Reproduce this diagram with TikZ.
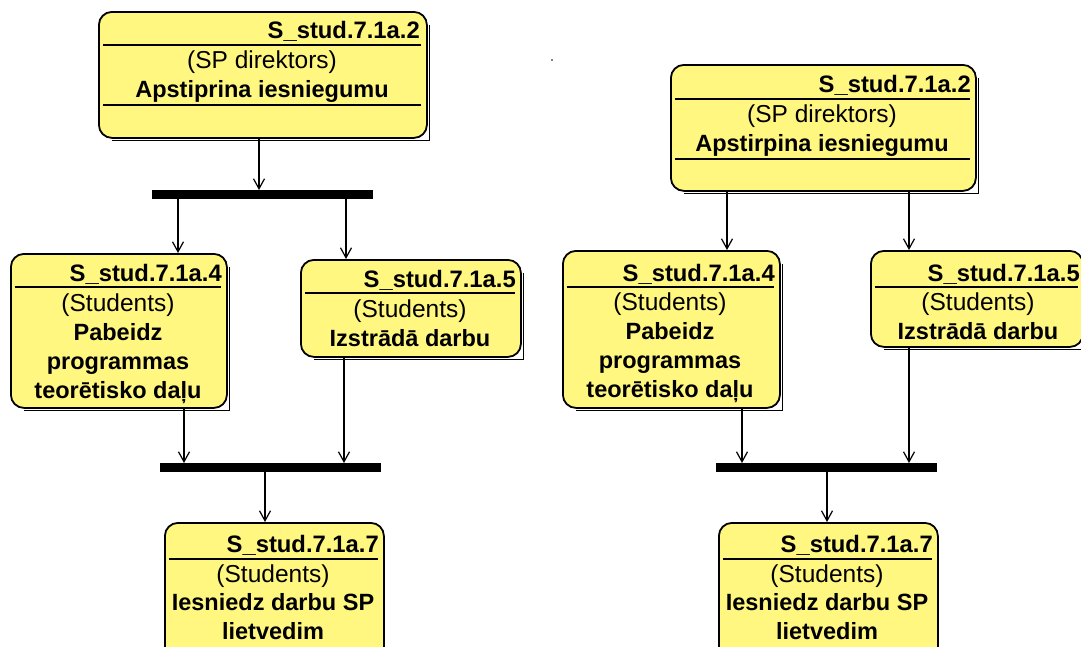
\documentclass[tikz,border=0pt]{standalone}
\usepackage{fontspec}
\setmainfont{Liberation Sans}
\usetikzlibrary{arrows.meta,calc}
\definecolor{actfill}{RGB}{255,247,128}
\tikzset{
  act/.style={draw=black, line width=1.8pt, fill=actfill, rounded corners=13pt,
              anchor=north west, inner sep=0pt},
  shadowline/.style={line width=1pt},
  sepline/.style={line width=1.8pt},
  syncbar/.style={fill=black, draw=none, anchor=north west, inner sep=0pt,
              minimum width=221pt, minimum height=9pt},
  flow/.style={line width=1.2pt, -{Straight Barb[length=10pt,width=11pt,line width=1.2pt]}},
  idtxt/.style={anchor=base east, font=\fontsize{23.8}{28}\selectfont\bfseries, inner sep=0pt},
  roletxt/.style={anchor=base, font=\fontsize{24.5}{28}\selectfont, inner sep=0pt},
  nametxt/.style={anchor=base, font=\fontsize{23.5}{28}\selectfont\bfseries, inner sep=0pt},
}
% offset shadow edge along the bottom and right of an activity box
\newcommand\boxshadow[1]{%
  \draw[shadowline] ($(#1.south west)+(14pt,-1.5pt)$) -| ($(#1.north east)+(1.5pt,-14pt)$);}
\begin{document}
\begin{tikzpicture}[x=1pt,y=-1pt]
\clip (0,0) rectangle (1081,646);
\fill[white] (0,0) rectangle (1081,646);

% ---------------- left flow ----------------
\node[act, minimum width=328pt, minimum height=126pt] (A2) at (98,11) {};
\boxshadow{A2}
\draw[sepline] (103,45) -- (421,45);
\draw[sepline] (103,105) -- (421,105);
\node[idtxt] (A2id) at (420,38) {S\_stud.7.1a.2};
\node[roletxt] (A2r) at (262,68) {(SP direktors)};
\node[nametxt] (A2n) at (262,97) {Apstiprina iesniegumu};

\node[syncbar] (J1) at (152,190) {};

\node[act, minimum width=216pt, minimum height=154pt] (A4) at (10,253) {};
\boxshadow{A4}
\draw[sepline] (15,287) -- (221,287);
\node[idtxt] (A4id) at (222,281) {S\_stud.7.1a.4};
\node[roletxt] (A4r) at (118,311) {(Students)};
\node[nametxt] (A4n1) at (118,340) {Pabeidz};
\node[nametxt] (A4n2) at (118,369) {programmas};
\node[nametxt] (A4n3) at (118,398) {teorētisko daļu};

\node[act, minimum width=220pt, minimum height=97pt] (A5) at (300,259) {};
\boxshadow{A5}
\draw[sepline] (305,293) -- (515,293);
\node[idtxt] (A5id) at (516,287) {S\_stud.7.1a.5};
\node[roletxt] (A5r) at (410,317) {(Students)};
\node[nametxt] (A5n) at (410,346) {Izstrādā darbu};

\node[syncbar] (J2) at (160,463) {};

\node[act, minimum width=219pt, minimum height=150pt] (A7) at (164,522) {};
\draw[sepline] (169,559) -- (378,559);
\node[idtxt] (A7id) at (379,552) {S\_stud.7.1a.7};
\node[roletxt] (A7r) at (273,582) {(Students)};
\node[nametxt] (A7n1) at (273,610) {Iesniedz darbu SP};
\node[nametxt] (A7n2) at (273,639) {lietvedim};

\coordinate (xa1) at (259,0);
\coordinate (xa2) at (178,0);
\coordinate (xa3) at (346,0);
\coordinate (xa4) at (184,0);
\coordinate (xa5) at (344,0);
\coordinate (xa6) at (265,0);
\draw[flow] (A2.south -| xa1) -- (J1.north -| xa1);
\draw[flow] (J1.south -| xa2) -- (A4.north -| xa2);
\draw[flow] (J1.south -| xa3) -- (A5.north -| xa3);
\draw[flow] (A4.south -| xa4) -- (J2.north -| xa4);
\draw[flow] (A5.south -| xa5) -- (J2.north -| xa5);
\draw[flow] (J2.south -| xa6) -- (A7.north -| xa6);

% ---------------- right flow ----------------
\fill (552,60) circle (0.8pt);

\node[act, minimum width=305pt, minimum height=126pt] (B2) at (670,64) {};
\boxshadow{B2}
\draw[sepline] (675,99) -- (970,99);
\draw[sepline] (675,159) -- (970,159);
\node[idtxt] (B2id) at (971,92) {S\_stud.7.1a.2};
\node[roletxt] (B2r) at (822,122) {(SP direktors)};
\node[nametxt] (B2n) at (822,151) {Apstirpina iesniegumu};

\node[act, minimum width=217pt, minimum height=157pt] (B4) at (562,250) {};
\boxshadow{B4}
\draw[sepline] (567,287) -- (774,287);
\node[idtxt] (B4id) at (775,281) {S\_stud.7.1a.4};
\node[roletxt] (B4r) at (670,310) {(Students)};
\node[nametxt] (B4n1) at (670,339) {Pabeidz};
\node[nametxt] (B4n2) at (670,368) {programmas};
\node[nametxt] (B4n3) at (670,397) {teorētisko daļu};

\node[act, minimum width=212pt, minimum height=96pt] (B5) at (870,250) {};
\boxshadow{B5}
\draw[sepline] (875,287) -- (1078,287);
\node[idtxt] (B5id) at (1080,281) {S\_stud.7.1a.5};
\node[roletxt] (B5r) at (978,310) {(Students)};
\node[nametxt] (B5n) at (978,339) {Izstrādā darbu};

\node[syncbar] (J3) at (716,463) {};

\node[act, minimum width=219pt, minimum height=150pt] (B7) at (718,522) {};
\draw[sepline] (723,559) -- (932,559);
\node[idtxt] (B7id) at (933,552) {S\_stud.7.1a.7};
\node[roletxt] (B7r) at (827,582) {(Students)};
\node[nametxt] (B7n1) at (827,610) {Iesniedz darbu SP};
\node[nametxt] (B7n2) at (827,639) {lietvedim};

\coordinate (xb1) at (727,0);
\coordinate (xb2) at (909,0);
\coordinate (xb3) at (742,0);
\coordinate (xb4) at (827,0);
\draw[flow] (B2.south -| xb1) -- (B4.north -| xb1);
\draw[flow] (B2.south -| xb2) -- (B5.north -| xb2);
\draw[flow] (B4.south -| xb3) -- (J3.north -| xb3);
\draw[flow] (B5.south -| xb2) -- (J3.north -| xb2);
\draw[flow] (J3.south -| xb4) -- (B7.north -| xb4);
\end{tikzpicture}
\end{document}
